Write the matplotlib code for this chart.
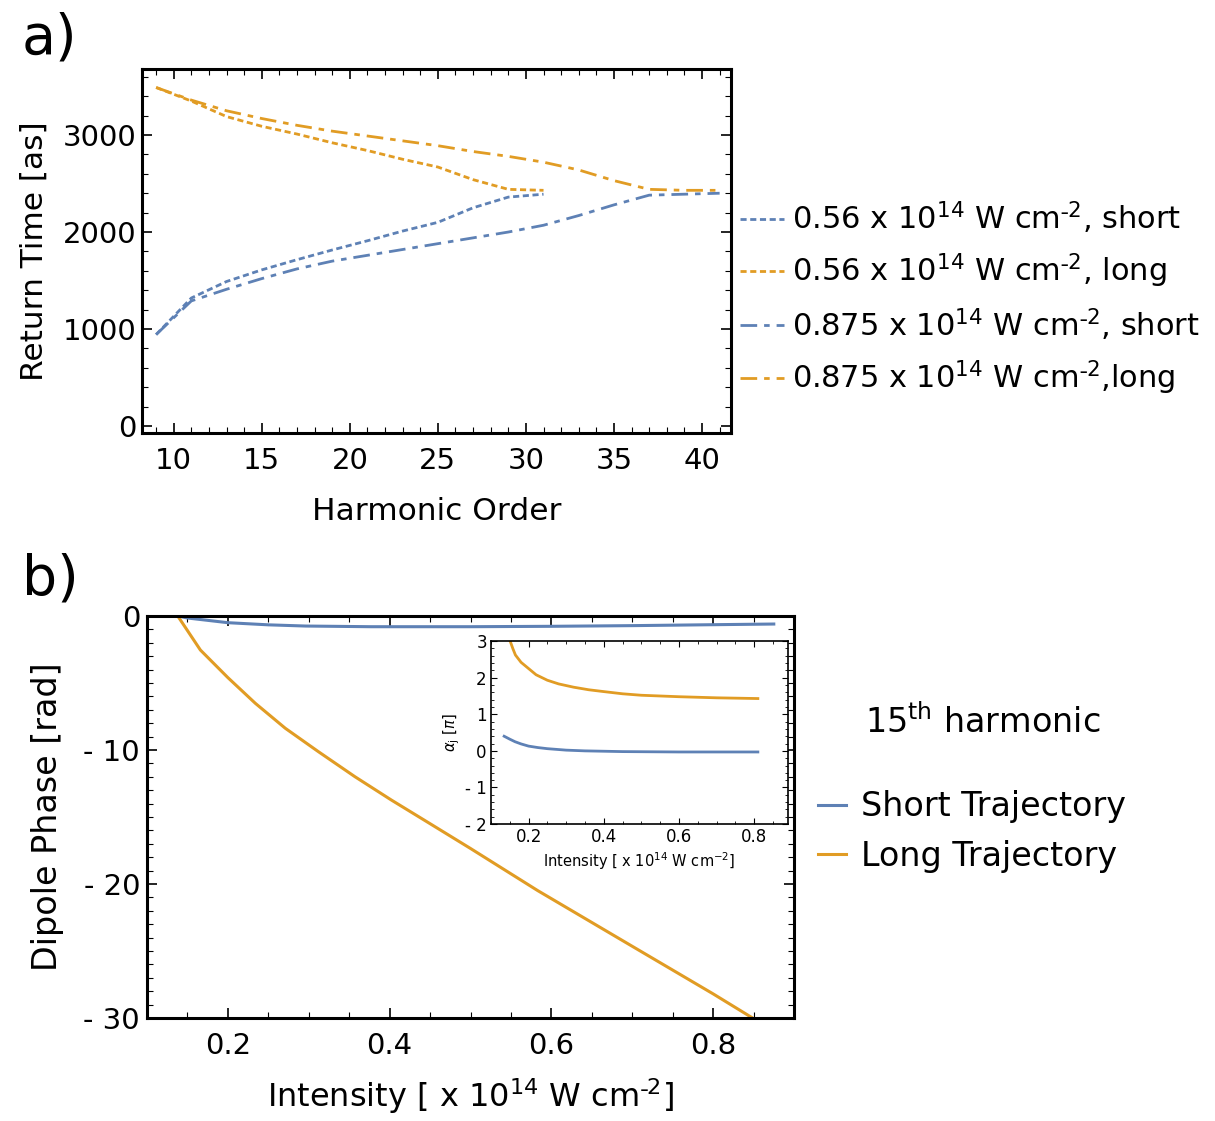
import numpy as np
import matplotlib
matplotlib.use("Agg")
import matplotlib.pyplot as plt
from matplotlib.ticker import MultipleLocator

# colours (Mathematica default palette)
blue = "#5E81B5"
orange = "#E19C24"

# ---- panel a data: return time vs harmonic order ----
h_056 = [9, 11, 13, 15, 17, 19, 21, 23, 25, 27, 29, 31]
short_056 = [943, 1320, 1490, 1610, 1715, 1815, 1910, 2010, 2100, 2250, 2360, 2390]
long_056 = [3490, 3350, 3190, 3090, 3010, 2920, 2840, 2750, 2670, 2540, 2440, 2430]

h_0875 = [9, 11, 13, 15, 17, 19, 21, 23, 25, 27, 29, 31, 33, 35, 37, 39, 41]
short_0875 = [943, 1290, 1410, 1520, 1620, 1700, 1760, 1820, 1880, 1940, 2000,
              2070, 2170, 2280, 2380, 2390, 2400]
long_0875 = [3490, 3360, 3250, 3170, 3100, 3040, 2990, 2940, 2890, 2830, 2780,
             2720, 2640, 2530, 2440, 2430, 2430]

# ---- panel b data: dipole phase vs intensity (15th harmonic) ----
I_long = [0.138, 0.166, 0.20, 0.234, 0.271, 0.312, 0.357, 0.402, 0.45, 0.50,
          0.583, 0.70, 0.80, 0.846, 0.86]
phase_long = [0.0, -2.54, -4.6, -6.52, -8.38, -10.13, -11.99, -13.73, -15.5, -17.35,
              -20.49, -24.65, -28.2, -29.9, -30.4]

I_short = [0.138, 0.15, 0.20, 0.25, 0.296, 0.377, 0.50, 0.60, 0.70, 0.80, 0.875]
phase_short = [0.0, -0.15, -0.5, -0.66, -0.75, -0.8, -0.8, -0.77, -0.72, -0.65, -0.6]

# ---- inset data: alpha_j in units of pi ----
I_in_long = [0.151, 0.158, 0.165, 0.18, 0.20, 0.22, 0.25, 0.28, 0.32, 0.36, 0.40,
             0.45, 0.50, 0.55, 0.60, 0.70, 0.81]
alpha_long = [3.0, 2.8, 2.62, 2.42, 2.25, 2.08, 1.93, 1.83, 1.74, 1.67, 1.62,
              1.56, 1.52, 1.50, 1.48, 1.45, 1.43]
I_in_short = [0.135, 0.15, 0.164, 0.18, 0.20, 0.225, 0.25, 0.30, 0.35, 0.45, 0.60, 0.81]
alpha_short = [0.40, 0.32, 0.25, 0.19, 0.13, 0.09, 0.06, 0.02, 0.0, -0.02, -0.03, -0.03]

plt.rcParams["font.family"] = "DejaVu Sans"
plt.rcParams["mathtext.fontset"] = "dejavusans"

fig = plt.figure(figsize=(12.15, 11.21), dpi=100)


def style_frame(ax, lw=2.2):
    for s in ax.spines.values():
        s.set_linewidth(lw)
    ax.tick_params(which="both", direction="in", top=True, right=True)
    ax.tick_params(which="major", length=7, width=1.2)
    ax.tick_params(which="minor", length=4, width=0.8)


# ---- panel a ----
ax1 = fig.add_axes([0.1169, 0.6137, 0.4848, 0.3247])
ax1.plot(h_056, short_056, color=blue, lw=2, dashes=(2.2, 1.3),
         label=r"0.56 x 10$^{14}$ W cm$^{\bar{\ }2}$, short")
ax1.plot(h_056, long_056, color=orange, lw=2, dashes=(2.2, 1.3),
         label=r"0.56 x 10$^{14}$ W cm$^{\bar{\ }2}$, long")
ax1.plot(h_0875, short_0875, color=blue, lw=2, dashes=(6, 2.5, 2, 2.5),
         label=r"0.875 x 10$^{14}$ W cm$^{\bar{\ }2}$, short")
ax1.plot(h_0875, long_0875, color=orange, lw=2, dashes=(6, 2.5, 2, 2.5),
         label=r"0.875 x 10$^{14}$ W cm$^{\bar{\ }2}$,long")
ax1.set_xlim(8.2, 41.65)
ax1.set_ylim(-72, 3680)
ax1.set_xticks([10, 15, 20, 25, 30, 35, 40])
ax1.xaxis.set_minor_locator(MultipleLocator(1))
ax1.set_yticks([0, 1000, 2000, 3000])
ax1.yaxis.set_minor_locator(MultipleLocator(200))
style_frame(ax1)
ax1.tick_params(axis="x", labelsize=21, pad=10)
ax1.tick_params(axis="y", labelsize=21, pad=4)
ax1.set_xlabel("Harmonic Order", fontsize=22.5, labelpad=16)
ax1.set_ylabel("Return Time [as]", fontsize=22.5, labelpad=10)

fig.legend(*ax1.get_legend_handles_labels(), loc="center left",
           bbox_to_anchor=(0.609, 0.734), frameon=False, fontsize=22,
           handlelength=1.45, handletextpad=0.25, labelspacing=0.52,
           borderpad=0, borderaxespad=0)

fig.text(0.018, 0.966, "a)", fontsize=40, va="center", ha="left")

# ---- panel b ----
ax2 = fig.add_axes([0.121, 0.0919, 0.5325, 0.3586])
ax2.plot(I_short, phase_short, color=blue, lw=2.2, label="Short Trajectory")
ax2.plot(I_long, phase_long, color=orange, lw=2.2, label="Long Trajectory")
ax2.set_xlim(0.1, 0.9)
ax2.set_ylim(-30, 0)
ax2.set_xticks([0.2, 0.4, 0.6, 0.8])
ax2.xaxis.set_minor_locator(MultipleLocator(0.05))
ax2.set_yticks([0, -10, -20, -30])
ax2.set_yticklabels(["0", "- 10", "- 20", "- 30"])
ax2.yaxis.set_minor_locator(MultipleLocator(1))
style_frame(ax2)
ax2.tick_params(axis="x", labelsize=21, pad=10)
ax2.tick_params(axis="y", labelsize=21, pad=5)
ax2.set_xlabel(r"Intensity [ x 10$^{14}$ W cm$^{\bar{\ }2}$]", fontsize=23, labelpad=12)
ax2.set_ylabel("Dipole Phase [rad]", fontsize=24, labelpad=14)

fig.text(0.018, 0.483, "b)", fontsize=40, va="center", ha="left")
fig.text(0.712, 0.356, r"15$^{\rm th}$ harmonic", fontsize=24, va="center", ha="left")

fig.legend(*ax2.get_legend_handles_labels(), loc="center left",
           bbox_to_anchor=(0.673, 0.258), frameon=False, fontsize=24,
           handlelength=0.85, handletextpad=0.45, labelspacing=0.5,
           borderpad=0, borderaxespad=0)

# ---- inset ----
ax3 = fig.add_axes([0.4041, 0.2649, 0.2444, 0.1632])
ax3.plot(I_in_short, alpha_short, color=blue, lw=2)
ax3.plot(I_in_long, alpha_long, color=orange, lw=2)
ax3.set_xlim(0.1, 0.89)
ax3.set_ylim(-2, 3)
ax3.set_xticks([0.2, 0.4, 0.6, 0.8])
ax3.xaxis.set_minor_locator(MultipleLocator(0.05))
ax3.set_yticks([-2, -1, 0, 1, 2, 3])
ax3.set_yticklabels(["- 2", "- 1", "0", "1", "2", "3"])
ax3.yaxis.set_minor_locator(MultipleLocator(0.2))
for s in ax3.spines.values():
    s.set_linewidth(1.2)
ax3.tick_params(which="both", direction="in", top=True, right=True)
ax3.tick_params(which="major", length=4, width=0.8, labelsize=12, pad=3)
ax3.tick_params(which="minor", length=2, width=0.6)
ax3.set_xlabel(r"Intensity [ x 10$^{14}$ W cm$^{-2}$]", fontsize=10.5, labelpad=3)
ax3.set_ylabel(r"$\alpha_{\rm j}$ [$\pi$]", fontsize=10.5, labelpad=2)

fig.savefig("out.png", dpi=100)
